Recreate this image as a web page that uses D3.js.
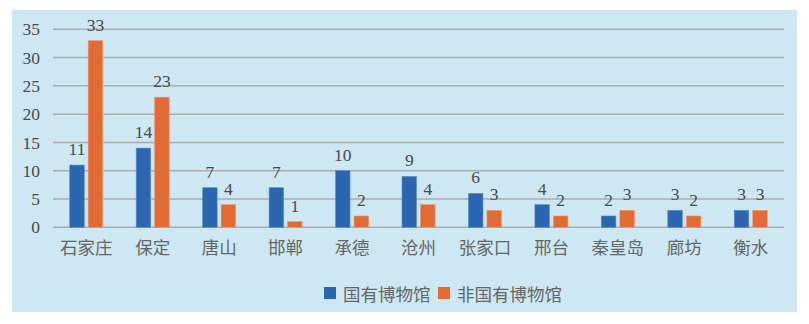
<!DOCTYPE html>
<html>
<head>
<meta charset="utf-8">
<script src="https://cdn.jsdelivr.net/npm/d3@7"></script>
<style>
  html, body { margin: 0; padding: 0; background: #ffffff; }
  svg { display: block; }
</style>
</head>
<body>
<svg id="chart" width="809" height="324"></svg>
<script>
// 河北省各市博物馆数量（国有 / 非国有）
const cities = ["石家庄", "保定", "唐山", "邯郸", "承德", "沧州", "张家口", "邢台", "秦皇岛", "廊坊", "衡水"];
const stateOwned = [11, 14, 7, 7, 10, 9, 6, 4, 2, 3, 3];
const nonStateOwned = [33, 23, 4, 1, 2, 4, 3, 2, 3, 2, 3];
const seriesNames = ["国有博物馆", "非国有博物馆"];
const yTicks = [0, 5, 10, 15, 20, 25, 30, 35];

const colors = ["#2c65b0", "#e26a34"];
const edges = ["#5b8bc9", "#f0956a"];
const serif = "'Liberation Serif', 'DejaVu Serif', serif";
const cjk = "'Noto Sans CJK SC', sans-serif";

const svg = d3.select("#chart");

// panel background
svg.append("rect")
  .attr("x", 12).attr("y", 10)
  .attr("width", 785).attr("height", 302)
  .attr("fill", "#cde8f3");

const plot = { left: 53, right: 784, top: 29.3, bottom: 227.3 };

const x = d3.scaleBand()
  .domain(cities)
  .range([plot.left, plot.right])
  .paddingInner(0).paddingOuter(0);

const y = d3.scaleLinear()
  .domain([0, 35])
  .range([plot.bottom, plot.top]);

// gridlines
svg.append("g")
  .selectAll("line")
  .data(yTicks)
  .join("line")
  .attr("x1", plot.left).attr("x2", plot.right)
  .attr("y1", d => y(d)).attr("y2", d => y(d))
  .attr("stroke", "#a9adaf")
  .attr("stroke-width", 1.5);

// y axis labels
const yAxis = d3.axisLeft(y).tickValues(yTicks).tickSize(0).tickPadding(13);
const gy = svg.append("g")
  .attr("transform", `translate(${plot.left},0)`)
  .call(yAxis);
gy.select(".domain").remove();
gy.selectAll("text")
  .attr("font-family", serif)
  .attr("font-size", 17.5)
  .attr("fill", "#4a4a4a");

// x axis labels
const xAxis = d3.axisBottom(x).tickSize(0).tickPadding(14);
const gx = svg.append("g")
  .attr("transform", `translate(0,${plot.bottom})`)
  .call(xAxis);
gx.select(".domain").remove();
gx.selectAll("text")
  .attr("font-family", cjk)
  .attr("font-size", 17.5)
  .attr("fill", "#666666");

const barW = 14.5, gap = 4;
const offsets = [-(gap / 2 + barW), gap / 2];
const series = [stateOwned, nonStateOwned];

series.forEach((vals, si) => {
  const g = svg.append("g");
  const cx = c => x(c) + x.bandwidth() / 2 + offsets[si];
  g.selectAll("rect")
    .data(cities)
    .join("rect")
    .attr("x", c => cx(c))
    .attr("y", (c, i) => y(vals[i]))
    .attr("width", barW)
    .attr("height", (c, i) => y(0) - y(vals[i]))
    .attr("fill", colors[si])
    .attr("stroke", edges[si])
    .attr("stroke-width", 0.6);
  g.selectAll("text")
    .data(cities)
    .join("text")
    .attr("x", c => cx(c) + barW / 2)
    .attr("y", (c, i) => y(vals[i]) - 10)
    .attr("text-anchor", "middle")
    .attr("font-family", serif)
    .attr("font-size", 17.5)
    .attr("fill", "#4a4a4a")
    .text((c, i) => vals[i]);
});

// legend
const legend = svg.append("g");
const legendItems = [
  { name: seriesNames[0], color: colors[0], x: 324 },
  { name: seriesNames[1], color: colors[1], x: 438 }
];
legendItems.forEach(it => {
  legend.append("rect")
    .attr("x", it.x).attr("y", 287)
    .attr("width", 12).attr("height", 12)
    .attr("fill", it.color);
  legend.append("text")
    .attr("x", it.x + 19).attr("y", 293)
    .attr("dominant-baseline", "central")
    .attr("font-family", cjk)
    .attr("font-size", 17.5)
    .attr("fill", "#666666")
    .text(it.name);
});
</script>
</body>
</html>
